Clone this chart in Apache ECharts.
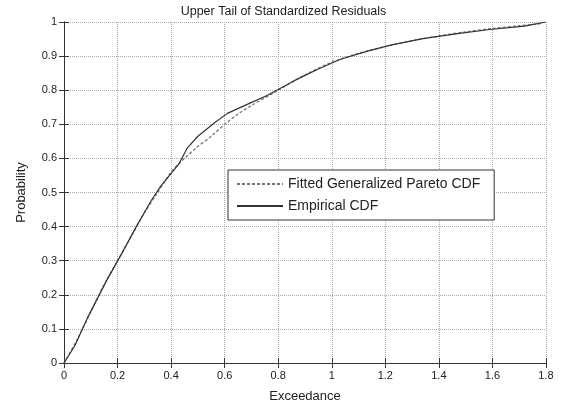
<!DOCTYPE html>
<html><head><meta charset="utf-8">
<script src="https://cdn.jsdelivr.net/npm/echarts@6/dist/echarts.min.js"></script>
<style>html,body{margin:0;padding:0;background:#fff}#c{width:567px;height:412px}</style>
</head><body><div id="c"></div>
<script>
const titleText = "Upper Tail of Standardized Residuals";
const xLabel = "Exceedance";
const yLabel = "Probability";
const seriesNames = ["Fitted Generalized Pareto CDF", "Empirical CDF"];
const fittedX = [0, 0.05, 0.1, 0.15, 0.2, 0.25, 0.3, 0.35, 0.4, 0.45, 0.5, 0.55, 0.6, 0.65, 0.7, 0.8, 0.9, 1.0, 1.1, 1.2, 1.3, 1.4, 1.5, 1.6, 1.7, 1.78];
const fittedY = [0, 0.07, 0.15, 0.23, 0.30, 0.37, 0.44, 0.50, 0.56, 0.60, 0.635, 0.665, 0.70, 0.73, 0.755, 0.80, 0.845, 0.882, 0.908, 0.928, 0.945, 0.959, 0.971, 0.981, 0.989, 0.995];
const empX = [0, 0.04, 0.09, 0.16, 0.215, 0.27, 0.327, 0.36, 0.43, 0.46, 0.5, 0.56, 0.61, 0.68, 0.76, 0.86, 0.95, 1.03, 1.14, 1.22, 1.34, 1.47, 1.59, 1.72, 1.8];
const empY = [0, 0.05, 0.136, 0.243, 0.32, 0.40, 0.478, 0.517, 0.585, 0.63, 0.665, 0.703, 0.732, 0.757, 0.785, 0.828, 0.862, 0.89, 0.916, 0.932, 0.951, 0.966, 0.978, 0.988, 1.0];
const xTicks = [0, 0.2, 0.4, 0.6, 0.8, 1, 1.2, 1.4, 1.6, 1.8];
const yTicks = [0, 0.1, 0.2, 0.3, 0.4, 0.5, 0.6, 0.7, 0.8, 0.9, 1];

const font = "Liberation Sans, Arial, sans-serif";
const chart = echarts.init(document.getElementById('c'));
const fmt = v => String(+(+v).toFixed(1));
const baseAxis = {
  axisLine: {show: true, lineStyle: {color: '#333', width: 1}},
  axisTick: {show: true, inside: true, length: 5, lineStyle: {color: '#333'}},
  axisLabel: {color: '#222', fontSize: 11, fontFamily: font, formatter: fmt, margin: 7},
  splitLine: {show: true, lineStyle: {color: '#aaa', type: 'dotted', width: 1}}
};
chart.setOption({
  animation: false,
  backgroundColor: '#fff',
  title: {text: titleText, left: 'center', top: 0, textStyle: {fontSize: 12.5, fontWeight: 'normal', color: '#222', fontFamily: font}},
  grid: {left: 64, right: 21, top: 22, bottom: 49},
  legend: {
    orient: 'vertical', left: 228, top: 170, padding: [7, 14, 7, 8],
    borderColor: '#333', borderWidth: 1, backgroundColor: '#fff',
    itemWidth: 46, itemHeight: 12, itemGap: 8,
    itemStyle: {opacity: 0},
    textStyle: {fontSize: 14, color: '#222', fontFamily: font},
    data: seriesNames
  },
  xAxis: [
    Object.assign({}, baseAxis, {type: 'value', min: 0, max: 1.8, interval: 0.2, name: xLabel, nameLocation: 'middle', nameGap: 27,
      nameTextStyle: {fontSize: 13, color: '#222', fontFamily: font}}),
    Object.assign({}, baseAxis, {type: 'value', position: 'top', min: 0, max: 1.8, interval: 0.2, axisLabel: {show: false}, splitLine: {show: false}})
  ],
  yAxis: [
    Object.assign({}, baseAxis, {type: 'value', min: 0, max: 1, interval: 0.1, name: yLabel, nameLocation: 'middle', nameGap: 36,
      nameTextStyle: {fontSize: 13, color: '#222', fontFamily: font}}),
    Object.assign({}, baseAxis, {type: 'value', position: 'right', min: 0, max: 1, interval: 0.1, axisLabel: {show: false}, splitLine: {show: false}})
  ],
  series: [
    {name: seriesNames[0], type: 'line', showSymbol: false, symbol: 'none', smooth: 0.3,
      lineStyle: {color: '#777', width: 1.3, type: [3, 2]}, itemStyle: {color: '#777'},
      data: fittedX.map((x, i) => [x, fittedY[i]])},
    {name: seriesNames[1], type: 'line', showSymbol: false, symbol: 'none',
      lineStyle: {color: '#333', width: 1.2}, itemStyle: {color: '#333'},
      data: empX.map((x, i) => [x, empY[i]])}
  ]
});
</script></body></html>
